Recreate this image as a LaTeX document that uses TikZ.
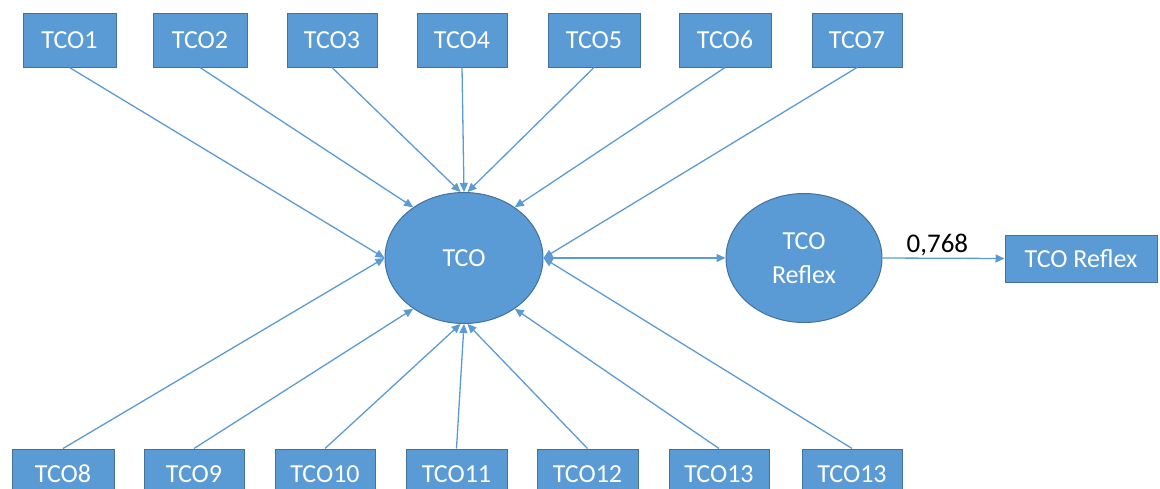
\documentclass[tikz,border=0pt]{standalone}
\usepackage{fontspec}
\setmainfont{Carlito}
\usetikzlibrary{shapes.geometric,arrows.meta}
\definecolor{boxblue}{HTML}{5B9BD5}
\definecolor{edgeblue}{HTML}{41719C}
\begin{document}
\begin{tikzpicture}[x=1pt,y=-1pt,
  indicator/.style={draw=edgeblue,line width=1pt,fill=boxblue,text=white,
    minimum height=54pt,inner sep=0pt,font=\fontsize{26}{31}\selectfont},
  lowrow/.style={indicator,minimum height=50pt},
  latent/.style={ellipse,draw=edgeblue,line width=1pt,fill=boxblue,text=white,
    minimum width=158pt,minimum height=131pt,inner sep=0pt,align=center,
    font=\fontsize{26}{34}\selectfont},
  link/.style={draw=boxblue,line width=1.3pt,-{Triangle[length=9pt,width=8pt]}}]
\useasboundingbox (0,0) rectangle (1160,488);
\clip (0,0) rectangle (1160,488);

% upper row of indicators
\node[indicator,minimum width=93pt] (t1) at (69.5,40) {TCO1};
\node[indicator,minimum width=94pt] (t2) at (200,40) {TCO2};
\node[indicator,minimum width=90pt] (t3) at (332,40) {TCO3};
\node[indicator,minimum width=90pt] (t4) at (462,40) {TCO4};
\node[indicator,minimum width=92pt] (t5) at (594,40) {TCO5};
\node[indicator,minimum width=92pt] (t6) at (725,40) {TCO6};
\node[indicator,minimum width=90pt] (t7) at (857,40) {TCO7};

% lower row of indicators (running off the lower edge)
\node[lowrow,minimum width=102pt] (t8)  at (63,474)    {TCO8};
\node[lowrow,minimum width=100pt] (t9)  at (194,474)   {TCO9};
\node[lowrow,minimum width=100pt] (t10) at (325,474)   {TCO10};
\node[lowrow,minimum width=101pt] (t11) at (456.5,474) {TCO11};
\node[lowrow,minimum width=101pt] (t12) at (587.5,474) {TCO12};
\node[lowrow,minimum width=100pt] (t13) at (719,474)   {TCO13};
\node[lowrow,minimum width=100pt] (t14) at (852,474)   {TCO13};

% latent constructs
\node[latent] (tco) at (464,258) {TCO};
\node[latent,minimum width=156pt,minimum height=129pt] (ref) at (804,258) {TCO\\Reflex};
\node[indicator,minimum width=152pt,minimum height=47pt] (refbox) at (1081,258.5) {TCO Reflex};

% paths into TCO
\draw[link] (t1.south) -- (tco.west);
\draw[link] (t2.south) -- (tco.135);
\draw[link] (t3.south) -- (tco.93);
\draw[link] (t4.south) -- (tco.90);
\draw[link] (t5.south) -- (tco.87);
\draw[link] (t6.south) -- (tco.45);
\draw[link] (t7.south) -- (tco.east);
\draw[link] (t8.north) -- (tco.west);
\draw[link] (t9.north) -- (tco.225);
\draw[link] (t10.north) -- (tco.267);
\draw[link] (t11.north) -- (tco.270);
\draw[link] (t12.north) -- (tco.273);
\draw[link] (t13.north) -- (tco.315);
\draw[link] (t14.north) -- (tco.east);

% structural and reflective paths
\draw[link] (tco.east) -- (ref.west);
\draw[link] (ref.east) -- node[pos=0.45,above=1pt,text=black,
  font=\fontsize{27}{32}\selectfont,inner sep=1pt] {0,768} (refbox.west);
\end{tikzpicture}
\end{document}
